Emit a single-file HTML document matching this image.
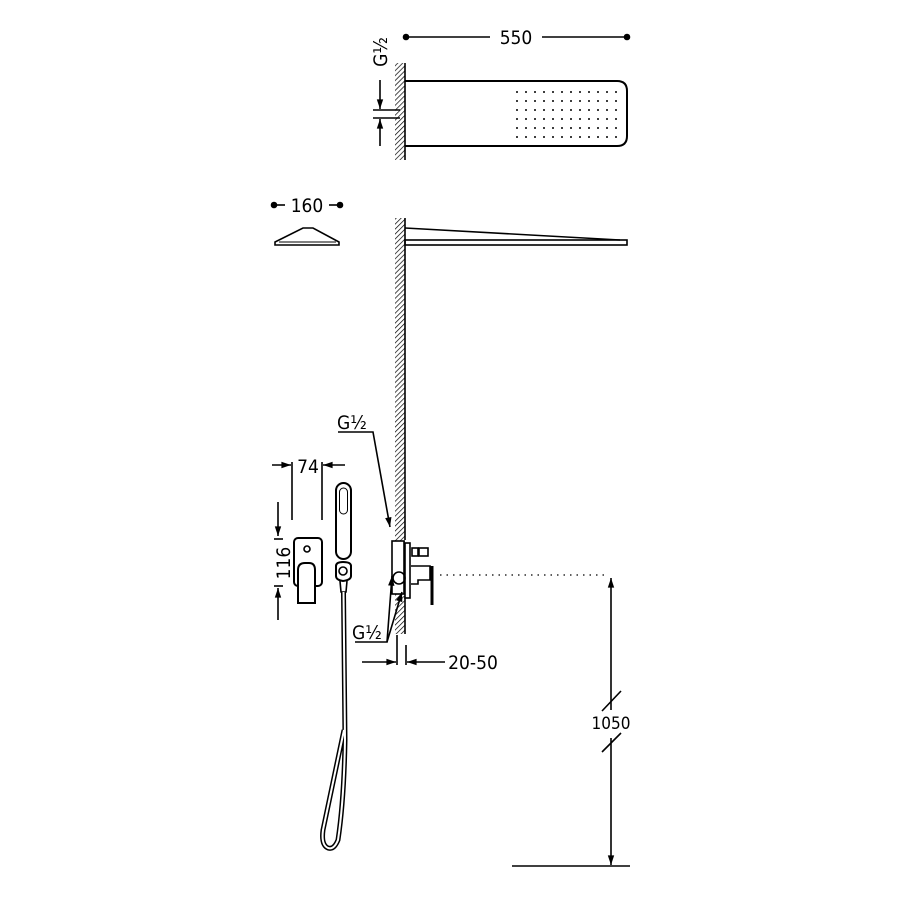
<!DOCTYPE html>
<html><head><meta charset="utf-8"><style>
html,body{margin:0;padding:0;background:#fff}
svg{display:block}
text{font-family:"DejaVu Sans Condensed","Liberation Sans",sans-serif;fill:#000}
</style></head><body>
<svg width="900" height="900" viewBox="0 0 900 900" xmlns="http://www.w3.org/2000/svg">
<defs>
<pattern id="h" width="3.5" height="3.5" patternUnits="userSpaceOnUse" patternTransform="rotate(45)">
<line x1="0" y1="0" x2="0" y2="3.5" stroke="#000" stroke-width="1.4"/>
</pattern>
<marker id="a" viewBox="0 0 12 10" refX="12" refY="5" markerWidth="12" markerHeight="8" orient="auto-start-reverse" markerUnits="userSpaceOnUse">
<path d="M0,1 L12,5 L0,9 z" fill="#000"/></marker>
</defs>
<g stroke="#000" fill="none" stroke-width="1.6">
<rect x="395" y="63" width="10" height="97" fill="url(#h)" stroke="none"/>
<line x1="405" y1="63" x2="405" y2="160"/>
<path d="M405,81 H617 Q627,81 627,91 V136 Q627,146 617,146 H405" stroke-width="2"/>
<line x1="406" y1="37" x2="490" y2="37"/><line x1="542" y1="37" x2="627" y2="37"/>
<circle cx="406" cy="37" r="2.5" fill="#000"/><circle cx="627" cy="37" r="2.5" fill="#000"/>
<line x1="380" y1="80" x2="380" y2="109" marker-end="url(#a)"/>
<line x1="380" y1="146" x2="380" y2="119" marker-end="url(#a)"/>
<line x1="373" y1="110" x2="400" y2="110"/><line x1="373" y1="118" x2="400" y2="118"/>
<rect x="395" y="218" width="10" height="416" fill="url(#h)" stroke="none"/>
<line x1="405" y1="218" x2="405" y2="540"/><line x1="405" y1="596" x2="405" y2="634"/>
<path d="M405,228 L620,240"/>
<rect x="405" y="240" width="222" height="5"/>
<circle cx="274" cy="205" r="2.5" fill="#000"/><line x1="274" y1="205" x2="285" y2="205"/>
<circle cx="340" cy="205" r="2.5" fill="#000"/><line x1="329" y1="205" x2="340" y2="205"/>
<path d="M275,245 L275,242 L303,228 L313,228 L339,242 L339,245 Z"/>
<line x1="279" y1="242" x2="336" y2="242" stroke-width="1"/>
<rect x="392" y="541" width="12" height="53" fill="#fff"/>
<rect x="405" y="543" width="5" height="55" fill="#fff"/>
<rect x="412" y="548" width="6" height="8"/><rect x="419" y="548" width="9" height="8"/>
<path d="M411,566 H430 V580 H418 V584 H411"/>
<path d="M432,566 V605" stroke-width="3"/>
<circle cx="399" cy="578" r="6"/>
<line x1="440" y1="575" x2="605" y2="575" stroke-dasharray="1.5 5" stroke-width="1.2"/>
<line x1="611" y1="710" x2="611" y2="578" marker-end="url(#a)"/>
<line x1="611" y1="738" x2="611" y2="865" marker-end="url(#a)"/>
<line x1="512" y1="866" x2="630" y2="866"/>
<line x1="602" y1="711" x2="621" y2="691"/><line x1="602" y1="752" x2="621" y2="733"/>
<line x1="397" y1="635" x2="397" y2="665"/><line x1="406" y1="645" x2="406" y2="665"/>
<line x1="362" y1="662" x2="396" y2="662" marker-end="url(#a)"/>
<line x1="445" y1="662" x2="407" y2="662" marker-end="url(#a)"/>
<path d="M338,432 H373 L390,527" marker-end="url(#a)"/>
<path d="M355,642 H387 L392,576" marker-end="url(#a)"/>
<path d="M387,642 L402,592" marker-end="url(#a)"/>
<line x1="292" y1="462" x2="292" y2="520"/><line x1="322" y1="462" x2="322" y2="520"/>
<line x1="272" y1="465" x2="291" y2="465" marker-end="url(#a)"/>
<line x1="345" y1="465" x2="323" y2="465" marker-end="url(#a)"/>
<line x1="278" y1="502" x2="278" y2="536" marker-end="url(#a)"/>
<line x1="278" y1="620" x2="278" y2="588" marker-end="url(#a)"/>
<line x1="274" y1="539" x2="283" y2="539"/><line x1="274" y1="586" x2="283" y2="586"/>
<rect x="294" y="538" width="28" height="48" rx="4" stroke-width="2"/>
<circle cx="307" cy="549" r="3"/>
<path d="M298,603 V570 Q298,563 305,563 H309 Q315,563 315,570 V603 Z" fill="#fff" stroke-width="2"/>
<rect x="336" y="483" width="15" height="76" rx="7.5" stroke-width="2"/>
<rect x="339.5" y="488" width="8" height="26" rx="4" stroke-width="1"/>
<path d="M336,566 Q336,562 343,562 Q351,562 351,566 V576 Q351,580 343,581 Q336,580 336,576 Z" stroke-width="2"/>
<circle cx="343" cy="571" r="4"/>
<path d="M340,581 L341,592 H346 L347,581"/>
<path d="M343.5,592 L345,740 Q344,800 338,840 Q334,850 328,848 Q321,845 323,830 L344,730" stroke-width="5"/>
<path d="M343.5,592 L345,740 Q344,800 338,840 Q334,850 328,848 Q321,845 323,830 L344,730" stroke="#fff" stroke-width="2"/>
</g>
<g fill="#000">
<circle cx="517" cy="92" r="1"/><circle cx="526" cy="92" r="1"/><circle cx="535" cy="92" r="1"/><circle cx="544" cy="92" r="1"/><circle cx="553" cy="92" r="1"/><circle cx="562" cy="92" r="1"/><circle cx="571" cy="92" r="1"/><circle cx="580" cy="92" r="1"/><circle cx="589" cy="92" r="1"/><circle cx="598" cy="92" r="1"/><circle cx="607" cy="92" r="1"/><circle cx="616" cy="92" r="1"/>
<circle cx="517" cy="101" r="1"/><circle cx="526" cy="101" r="1"/><circle cx="535" cy="101" r="1"/><circle cx="544" cy="101" r="1"/><circle cx="553" cy="101" r="1"/><circle cx="562" cy="101" r="1"/><circle cx="571" cy="101" r="1"/><circle cx="580" cy="101" r="1"/><circle cx="589" cy="101" r="1"/><circle cx="598" cy="101" r="1"/><circle cx="607" cy="101" r="1"/><circle cx="616" cy="101" r="1"/>
<circle cx="517" cy="110" r="1"/><circle cx="526" cy="110" r="1"/><circle cx="535" cy="110" r="1"/><circle cx="544" cy="110" r="1"/><circle cx="553" cy="110" r="1"/><circle cx="562" cy="110" r="1"/><circle cx="571" cy="110" r="1"/><circle cx="580" cy="110" r="1"/><circle cx="589" cy="110" r="1"/><circle cx="598" cy="110" r="1"/><circle cx="607" cy="110" r="1"/><circle cx="616" cy="110" r="1"/>
<circle cx="517" cy="119" r="1"/><circle cx="526" cy="119" r="1"/><circle cx="535" cy="119" r="1"/><circle cx="544" cy="119" r="1"/><circle cx="553" cy="119" r="1"/><circle cx="562" cy="119" r="1"/><circle cx="571" cy="119" r="1"/><circle cx="580" cy="119" r="1"/><circle cx="589" cy="119" r="1"/><circle cx="598" cy="119" r="1"/><circle cx="607" cy="119" r="1"/><circle cx="616" cy="119" r="1"/>
<circle cx="517" cy="128" r="1"/><circle cx="526" cy="128" r="1"/><circle cx="535" cy="128" r="1"/><circle cx="544" cy="128" r="1"/><circle cx="553" cy="128" r="1"/><circle cx="562" cy="128" r="1"/><circle cx="571" cy="128" r="1"/><circle cx="580" cy="128" r="1"/><circle cx="589" cy="128" r="1"/><circle cx="598" cy="128" r="1"/><circle cx="607" cy="128" r="1"/><circle cx="616" cy="128" r="1"/>
<circle cx="517" cy="137" r="1"/><circle cx="526" cy="137" r="1"/><circle cx="535" cy="137" r="1"/><circle cx="544" cy="137" r="1"/><circle cx="553" cy="137" r="1"/><circle cx="562" cy="137" r="1"/><circle cx="571" cy="137" r="1"/><circle cx="580" cy="137" r="1"/><circle cx="589" cy="137" r="1"/><circle cx="598" cy="137" r="1"/><circle cx="607" cy="137" r="1"/><circle cx="616" cy="137" r="1"/>
</g>
<g font-size="19">
<text x="516" y="44" text-anchor="middle">550</text>
<text x="307" y="212" text-anchor="middle">160</text>
<text x="308" y="473" text-anchor="middle">74</text>
<text x="473" y="669" text-anchor="middle">20-50</text>
<text x="611" y="729" text-anchor="middle" font-size="17">1050</text>
<text x="337" y="429">G½</text>
<text x="352" y="639">G½</text>
<text transform="translate(387,52) rotate(-90)" text-anchor="middle">G½</text>
<text transform="translate(290,563) rotate(-90)" text-anchor="middle">116</text>
</g>
</svg>
</body></html>
